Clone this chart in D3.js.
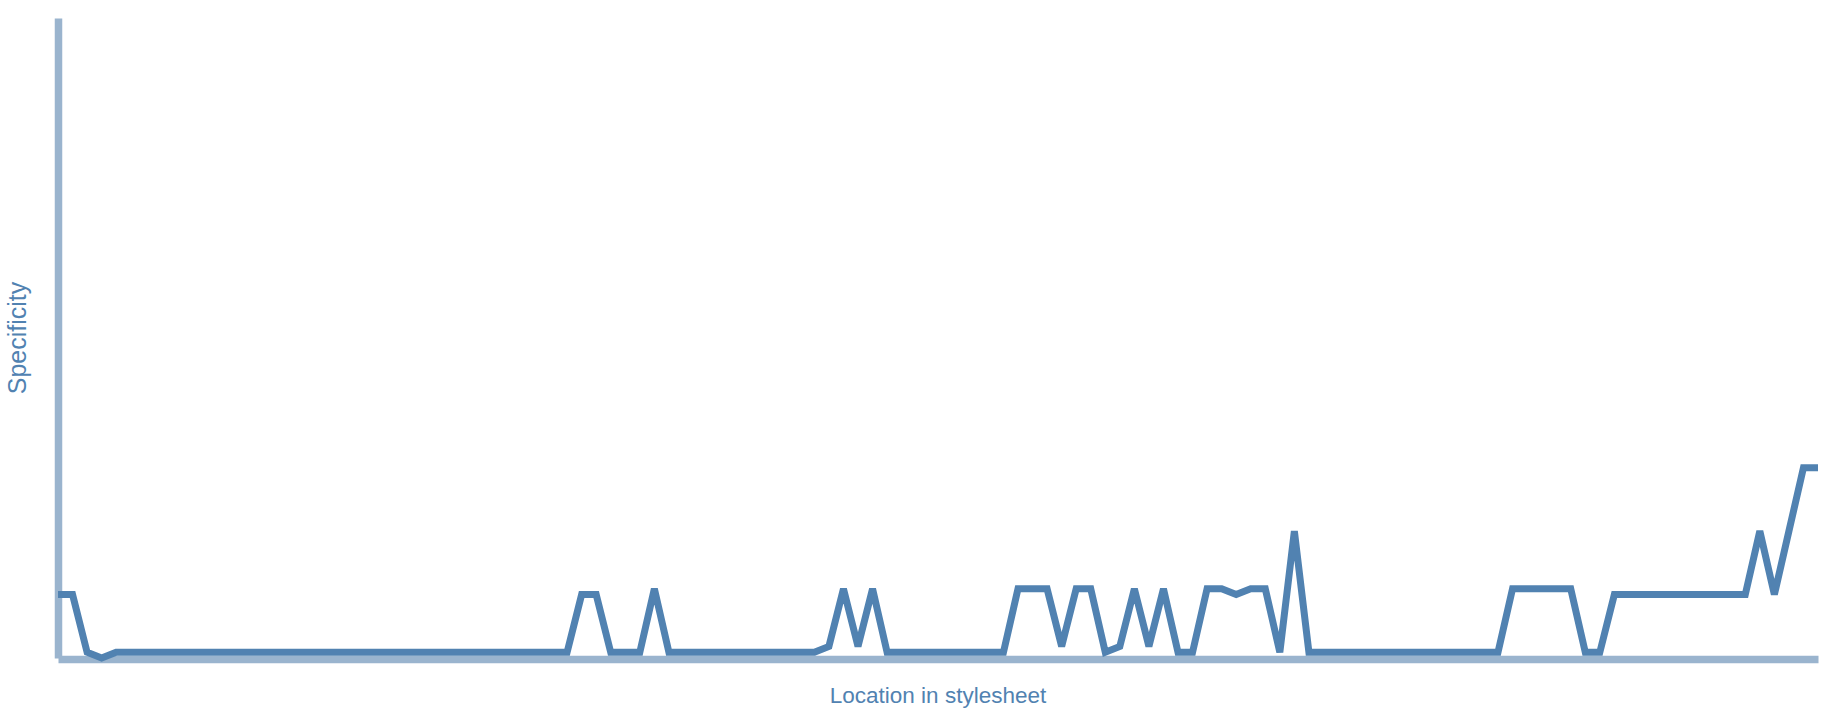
<!DOCTYPE html>
<html>
<head>
<meta charset="utf-8">
<script src="https://cdn.jsdelivr.net/npm/d3@7"></script>
<style>
  html, body { margin: 0; padding: 0; background: #ffffff; }
  svg { display: block; }
  .axis path.domain { stroke: #9ab4ce; stroke-width: 7.5px; fill: none; }
  .axis .tick { display: none; }
  .label { fill: #5182b1; font-family: "Liberation Sans", Arial, Helvetica, sans-serif; }
</style>
</head>
<body>
<script>
// Specificity of each selector, in order of location in the stylesheet
const specificity = [
  11, 11, 1, 0, 1, 1, 1, 1, 1, 1,
  1, 1, 1, 1, 1, 1, 1, 1, 1, 1,
  1, 1, 1, 1, 1, 1, 1, 1, 1, 1,
  1, 1, 1, 1, 1, 1, 11, 11, 1, 1,
  1, 12, 1, 1, 1, 1, 1, 1, 1, 1,
  1, 1, 1, 2, 12, 2, 12, 1, 1, 1,
  1, 1, 1, 1, 1, 1, 12, 12, 12, 2,
  12, 12, 1, 2, 12, 2, 12, 1, 1, 12,
  12, 11, 12, 12, 1, 22, 1, 1, 1, 1,
  1, 1, 1, 1, 1, 1, 1, 1, 1, 1,
  12, 12, 12, 12, 12, 1, 1, 11, 11, 11,
  11, 11, 11, 11, 11, 11, 11, 22, 11, 22,
  33, 33
];
const yMax = 111;
const xLabel = "Location in stylesheet";
const yLabel = "Specificity";

const W = 1834, H = 722;
const margin = { top: 18, right: 16, bottom: 64, left: 58 };
const width = W - margin.left - margin.right;
const height = H - margin.top - margin.bottom;

const svg = d3.select("body").append("svg")
  .attr("width", W).attr("height", H);
const g = svg.append("g")
  .attr("transform", `translate(${margin.left},${margin.top})`);

const x = d3.scaleLinear().domain([0, specificity.length - 1]).range([0, width]);
const y = d3.scaleLinear().domain([0, yMax]).range([height, 0]);

g.append("g").attr("class", "axis x")
  .attr("transform", `translate(0,${height + 1})`)
  .call(d3.axisBottom(x).ticks(0).tickSizeOuter(0));

g.append("g").attr("class", "axis y")
  .call(d3.axisLeft(y).ticks(0).tickSizeOuter(0));

const line = d3.line()
  .x((d, i) => x(i))
  .y(d => y(d));

g.append("path")
  .datum(specificity)
  .attr("fill", "none")
  .attr("stroke", "#5182b1")
  .attr("stroke-width", 7)
  .attr("d", line);

g.append("text")
  .attr("class", "label")
  .attr("x", width / 2)
  .attr("y", height + 45)
  .attr("text-anchor", "middle")
  .style("font-size", "22.5px")
  .text(xLabel);

g.append("text")
  .attr("class", "label")
  .attr("transform", "rotate(-90)")
  .attr("x", -height / 2)
  .attr("y", -32)
  .attr("text-anchor", "middle")
  .style("font-size", "25px")
  .text(yLabel);
</script>
</body>
</html>
